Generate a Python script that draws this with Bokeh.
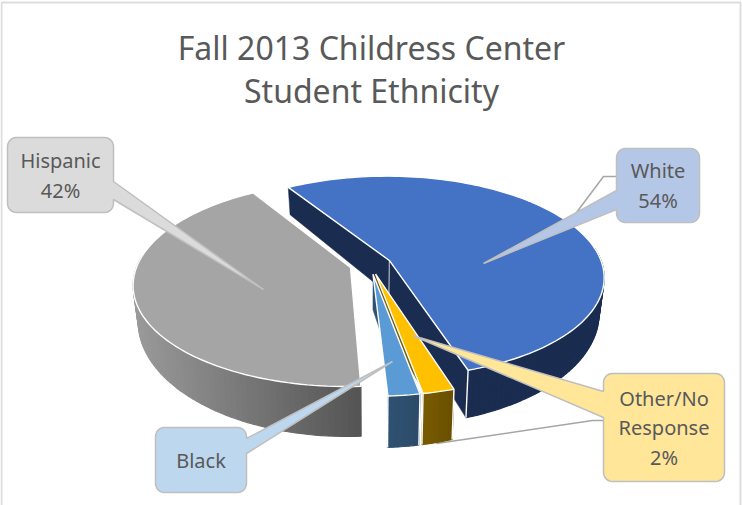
import math
from bokeh.plotting import figure
from bokeh.models import Range1d
from bokeh.core.properties import value
from bokeh.embed import file_html
from bokeh.resources import INLINE

# Shares in percent, listed clockwise from the first slice
categories = ["White", "Other/No Response", "Black", "Hispanic"]
shares = [54, 2, 2, 42]
top_colors = ["#4472C4", "#FFC000", "#5B9BD5", "#A5A5A5"]
wall_left = ["#1A2C50", "#7A5C00", "#2F5272", "#9A9A9A"]
wall_right = ["#1A2C50", "#6A5000", "#2D4C6A", "#555555"]
title_lines = ["Fall 2013 Childress Center", "Student Ethnicity"]
label_fills = {"White": "#B4C7E7", "Other/No Response": "#FFE699", "Black": "#BDD7EE", "Hispanic": "#DBDBDB"}
text_color = "#595959"
font = value("Noto Sans")

# Perspective pie parameters
START = 328.0
EXPLODE = 0.098
CX, CY = 370.0, 264.0
RX, RY = 213.0, 99.0
PERSP, PERSP_WALL = 0.16, 0.30
WALL, SHRINK = 34.5, 0.022


def project(X, Y, bottom=False):
    w = 1 - PERSP * Y
    sx = CX + RX * X / w
    sy = CY + RY * Y / w
    if bottom:
        sx = CX + (sx - CX) * (1 - SHRINK)
        sy += WALL / (1 - PERSP_WALL * Y)
    return sx, sy


def rim(angle, apex):
    t = math.radians(angle)
    return apex[0] + math.sin(t), apex[1] - math.cos(t)


def mix(c1, c2, f):
    a = [int(c1[i:i + 2], 16) for i in (1, 3, 5)]
    b = [int(c2[i:i + 2], 16) for i in (1, 3, 5)]
    return "#%02X%02X%02X" % tuple(round(u + (v - u) * f) for u, v in zip(a, b))


p = figure(width=742, height=505, x_range=Range1d(0, 742), y_range=Range1d(505, 0),
           output_backend="svg", toolbar_location=None, min_border=0,
           background_fill_color="white", border_fill_color="white", outline_line_color=None)
p.axis.visible = False
p.grid.visible = False

# Outer chart frame
p.line([1, 1, 740, 740], [505, 2, 2, 505], line_color="#DDDDDD", line_width=2)


# Leader lines run underneath the pie
def leader(xs, ys):
    p.line(xs, ys, line_color="#A6A6A6", line_width=1.5)


leader([570, 603, 617], [220, 176, 176])
leader([436, 592, 604], [443, 420, 420])

# Slice geometry from the shares
spans = []
a = START
for s in shares:
    b = a + 360 * s / sum(shares)
    spans.append((a, b))
    a = b

# Painted back to front so the thin slices cover the walls behind them
for idx in (0, 3, 1, 2):
    a0, a1 = spans[idx]
    mid = math.radians((a0 + a1) / 2)
    apex = (EXPLODE * math.sin(mid), -EXPLODE * math.cos(mid))
    n = max(6, int((a1 - a0) / 1.5))
    angles = [a0 + (a1 - a0) * i / n for i in range(n + 1)]
    pts = [rim(t, apex) for t in angles]
    top = [project(*q) for q in pts]
    low = [project(*q, bottom=True) for q in pts]

    at, ab = project(*apex), project(*apex, bottom=True)
    dark = mix(wall_left[idx], wall_right[idx], 0.5)

    # Straight walls that face the viewer
    if idx == 0:
        for i in (0, -1):
            p.patch([at[0], top[i][0], low[i][0], ab[0]], [at[1], top[i][1], low[i][1], ab[1]],
                    fill_color=dark, line_color=dark, line_width=0.5)
        p.line([at[0], ab[0]], [at[1], ab[1]], line_color="#C8CEDA", line_width=1)
    elif idx in (1, 2):
        p.patch([at[0], top[0][0], low[0][0], ab[0]], [at[1], top[0][1], low[0][1], ab[1]],
                fill_color=wall_left[idx], line_color=wall_left[idx], line_width=0.5)

    # Curved outer wall, shaded across its width
    keep = [i for i in range(n) if 0.5 * (pts[i][1] + pts[i + 1][1]) > apex[1] - 0.12]
    lo_x, hi_x = min(q[0] for q in low), max(q[0] for q in low)
    xs, ys, cols = [], [], []
    for i in keep:
        f = (low[i][0] - lo_x) / max(1e-6, hi_x - lo_x)
        c = mix(wall_left[idx], wall_right[idx], f)
        xs.append([top[i][0], top[i + 1][0], low[i + 1][0], low[i][0]])
        ys.append([top[i][1], top[i + 1][1], low[i + 1][1], low[i][1]])
        cols.append(c)
    p.patches(xs, ys, fill_color=cols, line_color=cols, line_width=1.2)

    # Edge highlights on the wall corners
    if idx != 3:
        for i in (0, -1):
            if pts[i][1] > 0:
                p.line([top[i][0], low[i][0]], [top[i][1], low[i][1]], line_color="white", line_width=1.4)

    # Top face
    p.patch([at[0]] + [q[0] for q in top], [at[1]] + [q[1] for q in top],
            fill_color=top_colors[idx], line_color="white", line_width=1.4)


def callout(box, tip, base, side, fill):
    """Rounded label box whose outline runs out to a pointer tip."""
    x0, y0, x1, y1 = box
    r = 9
    def arc(cx, cy, a0):
        return [(cx + r * math.cos(math.radians(a0 + 90 * k / 6)),
                 cy + r * math.sin(math.radians(a0 + 90 * k / 6))) for k in range(7)]
    path = arc(x0 + r, y0 + r, 180) + arc(x1 - r, y0 + r, 270)
    if side == "right":
        path += [(x1, base[0]), tip, (x1, base[1])]
    path += arc(x1 - r, y1 - r, 0) + arc(x0 + r, y1 - r, 90)
    if side == "left":
        path += [(x0, base[1]), tip, (x0, base[0])]
    p.patch([q[0] for q in path], [q[1] for q in path], fill_color=fill,
            line_color="#BFBFBF", line_width=1.5)


callout((616, 148, 699, 222), (483, 263), (190, 209), "left", label_fills["White"])
callout((7, 137, 113, 212), (263, 289), (181, 199), "right", label_fills["Hispanic"])
callout((155, 427, 246, 492), (392, 361), (438, 453), "right", label_fills["Black"])
callout((603, 373, 724, 481), (412, 335), (391, 417), "left", label_fills["Other/No Response"])

# Label texts
pct = dict(zip(categories, shares))
label_x = [657.5, 60, 200.5, 663.5]
label_rows = [
    ["White", f"{pct['White']}%"],
    ["Hispanic", f"{pct['Hispanic']}%"],
    ["Black"],
    ["Other/No", "Response", f"{pct['Other/No Response']}%"],
]
label_y = [(170, 200), (160, 190), (460,), (398, 427, 457)]
xs, ys, ts = [], [], []
for x, rows, yy in zip(label_x, label_rows, label_y):
    for t, y in zip(rows, yy):
        xs.append(x); ys.append(y); ts.append(t)
p.text(xs, ys, text=ts, text_font=font, text_font_size="20px", text_color=text_color,
       text_align="center", text_baseline="middle")

# Two-line chart title
p.text([371, 371], [47, 90], text=title_lines, text_font=font, text_font_size="32px",
       text_color=text_color, text_align="center", text_baseline="middle")

open("out.html", "w").write(file_html(p, INLINE))
